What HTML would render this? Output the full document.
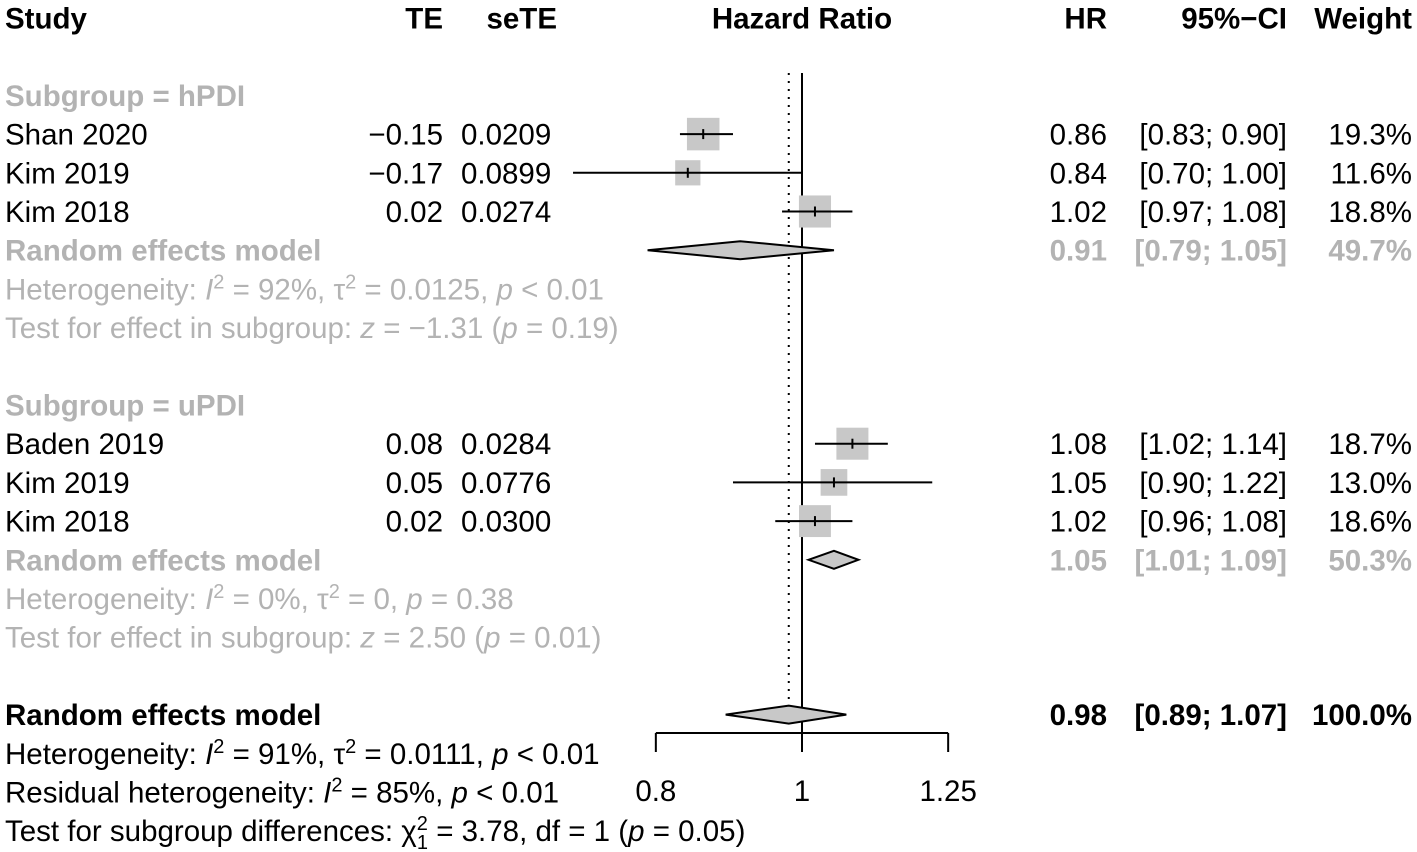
<!DOCTYPE html>
<html><head><meta charset="utf-8"><style>
html,body{margin:0;padding:0;background:#fff}
svg{display:block;font-family:"Liberation Sans",Arial,sans-serif}
</style></head><body>
<svg id="c" width="1417" height="852" viewBox="0 0 1417 852" xmlns="http://www.w3.org/2000/svg"></svg>
<script>
const studies = ["Shan 2020","Kim 2019","Kim 2018","Baden 2019","Kim 2019","Kim 2018"];
const te = ["\u22120.15","\u22120.17","0.02","0.08","0.05","0.02"];
const sete = ["0.0209","0.0899","0.0274","0.0284","0.0776","0.0300"];
const hr = [0.86,0.84,1.02,1.08,1.05,1.02];
const lower = [0.83,0.705,0.97,1.02,0.90,0.96];
const upper = [0.90,1.00,1.08,1.14,1.22,1.08];
const weights = [19.3,11.6,18.8,18.7,13.0,18.6];
const hrLabels = ["0.86","0.84","1.02","1.08","1.05","1.02"];
const ciLabels = ["[0.83; 0.90]","[0.70; 1.00]","[0.97; 1.08]","[1.02; 1.14]","[0.90; 1.22]","[0.96; 1.08]"];
const wLabels = ["19.3%","11.6%","18.8%","18.7%","13.0%","18.6%"];
const studyRows = [4,5,6,12,13,14];
const poolHR = [0.91,1.05,0.98];
const poolLo = [0.79,1.01,0.89];
const poolHi = [1.05,1.09,1.07];
const poolRows = [7,15,19];
const poolHRLab = ["0.91","1.05","0.98"];
const poolCILab = ["[0.79; 1.05]","[1.01; 1.09]","[0.89; 1.07]"];
const poolWLab = ["49.7%","50.3%","100.0%"];
const ticks = [0.8,1,1.25];
const tickLabels = ["0.8","1","1.25"];

const svg = document.getElementById('c');
const NS = "http://www.w3.org/2000/svg";
const GRAY = "#b3b3b3";
const FS = 29.5;
const xs = v => 802 + Math.log(v) * 655;
function ry(r){ return 18 + (r-1)*38.7; }
function el(tag, attrs, name){
  const e = document.createElementNS(NS, tag);
  for (const k in attrs) e.setAttribute(k, attrs[k]);
  
  
  svg.appendChild(e); return e;
}
function txt(x, r, s, opts, name){
  const o = opts || {};
  const t = el('text', {x:x, y:(o.y!==undefined?o.y:ry(r)+10.5), 'font-size':o.size||FS, fill:o.fill||'#000',
    'font-weight':o.bold?'bold':'normal','text-anchor':o.anchor||'start'}, name);
  if (o.html) t.innerHTML = s; else t.textContent = s;
  return t;
}
const HRX = 1107, CIX = 1287, WX = 1412;
// header
txt(5,1,"Study",{bold:1},"header-study");
txt(443,1,"TE",{bold:1,anchor:'end'},"header-te");
txt(557,1,"seTE",{bold:1,anchor:'end'},"header-sete");
txt(802,1,"Hazard Ratio",{bold:1,anchor:'middle'},"header-hazard-ratio");
txt(HRX,1,"HR",{bold:1,anchor:'end'},"header-hr");
txt(CIX,1,"95%\u2212CI",{bold:1,anchor:'end'},"header-ci");
txt(WX,1,"Weight",{bold:1,anchor:'end'},"header-weight");

// reference lines
el('line',{x1:xs(1),x2:xs(1),y1:73,y2:733,stroke:'#000','stroke-width':2},"null-effect-line");
el('line',{x1:xs(poolHR[2]),x2:xs(poolHR[2]),y1:73,y2:700,stroke:'#000','stroke-width':2,'stroke-dasharray':'2,6'},"pooled-effect-line");

// subgroup labels
txt(5,3,"Subgroup = hPDI",{bold:1,fill:GRAY},"subgroup-hpdi-label");
txt(5,11,"Subgroup = uPDI",{bold:1,fill:GRAY},"subgroup-updi-label");

// studies
studies.forEach((s,i)=>{
  const r = studyRows[i], y = ry(r);
  txt(5,r,s,{},"study-name");
  txt(443,r,te[i],{anchor:'end'},"te-value");
  txt(461,r,sete[i],{},"sete-value");
  txt(HRX,r,hrLabels[i],{anchor:'end'},"hr-value");
  txt(CIX,r,ciLabels[i],{anchor:'end'},"ci-value");
  txt(WX,r,wLabels[i],{anchor:'end'},"weight-value");
  const side = 7.4*Math.sqrt(weights[i]);
  el('rect',{x:xs(hr[i])-side/2,y:y-side/2,width:side,height:side,fill:'#c8c8c8'},"study-square");
  el('line',{x1:xs(lower[i]),x2:xs(upper[i]),y1:y,y2:y,stroke:'#000','stroke-width':2},"study-ci-line");
  el('line',{x1:xs(hr[i]),x2:xs(hr[i]),y1:y-5,y2:y+5,stroke:'#000','stroke-width':2},"study-point");
});

// pooled
poolRows.forEach((r,i)=>{
  const y = ry(r), overall = i===2, f = overall?'#000':GRAY;
  txt(5,r,"Random effects model",{bold:1,fill:f},overall?"overall-model-label":"subgroup-model-label");
  txt(HRX,r,poolHRLab[i],{bold:1,fill:f,anchor:'end'},"pooled-hr");
  txt(CIX,r,poolCILab[i],{bold:1,fill:f,anchor:'end'},"pooled-ci");
  txt(WX,r,poolWLab[i],{bold:1,fill:f,anchor:'end'},"pooled-weight");
  const pts = [[xs(poolLo[i]),y],[xs(poolHR[i]),y-9],[xs(poolHi[i]),y],[xs(poolHR[i]),y+9]].map(p=>p.join(',')).join(' ');
  el('polygon',{points:pts,fill:'#c8c8c8',stroke:'#000','stroke-width':2},"pooled-diamond");
});

// heterogeneity texts
txt(5,8,'Heterogeneity: <tspan font-style="italic">I</tspan><tspan dy="-11" font-size="20">2</tspan><tspan dy="11"> = 92%, \u03c4</tspan><tspan dy="-11" font-size="20">2</tspan><tspan dy="11"> = 0.0125, </tspan><tspan font-style="italic">p</tspan> &lt; 0.01',{fill:GRAY,html:1},"hpdi-heterogeneity");
txt(5,9,'Test for effect in subgroup: <tspan font-style="italic">z</tspan> = \u22121.31 (<tspan font-style="italic">p</tspan> = 0.19)',{fill:GRAY,html:1},"hpdi-effect-test");
txt(5,16,'Heterogeneity: <tspan font-style="italic">I</tspan><tspan dy="-11" font-size="20">2</tspan><tspan dy="11"> = 0%, \u03c4</tspan><tspan dy="-11" font-size="20">2</tspan><tspan dy="11"> = 0, </tspan><tspan font-style="italic">p</tspan> = 0.38',{fill:GRAY,html:1},"updi-heterogeneity");
txt(5,17,'Test for effect in subgroup: <tspan font-style="italic">z</tspan> = 2.50 (<tspan font-style="italic">p</tspan> = 0.01)',{fill:GRAY,html:1},"updi-effect-test");
txt(5,20,'Heterogeneity: <tspan font-style="italic">I</tspan><tspan dy="-11" font-size="20">2</tspan><tspan dy="11"> = 91%, \u03c4</tspan><tspan dy="-11" font-size="20">2</tspan><tspan dy="11"> = 0.0111, </tspan><tspan font-style="italic">p</tspan> &lt; 0.01',{html:1},"overall-heterogeneity");
txt(5,21,'Residual heterogeneity: <tspan font-style="italic">I</tspan><tspan dy="-11" font-size="20">2</tspan><tspan dy="11"> = 85%, </tspan><tspan font-style="italic">p</tspan> &lt; 0.01',{html:1},"residual-heterogeneity");
txt(5,22,'Test for subgroup differences: \u03c7<tspan dy="-11" font-size="20">2</tspan><tspan dx="-11" dy="19" font-size="20">1</tspan><tspan dy="-8"> = 3.78, df = 1 (</tspan><tspan font-style="italic">p</tspan> = 0.05)',{html:1},"subgroup-differences-test");

// axis
el('line',{x1:xs(ticks[0]),x2:xs(ticks[ticks.length-1]),y1:733,y2:733,stroke:'#000','stroke-width':2},"x-axis");
ticks.forEach((t,i)=>{
  el('line',{x1:xs(t),x2:xs(t),y1:733,y2:752,stroke:'#000','stroke-width':2},"x-tick");
  txt(xs(t),0,tickLabels[i],{anchor:'middle',y:801},"x-tick-label");
});
</script>
</body></html>
